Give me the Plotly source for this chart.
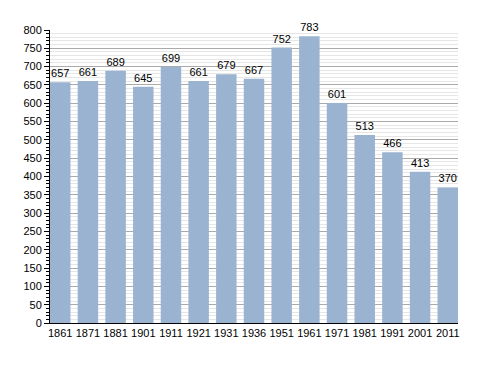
import plotly.graph_objects as go

years = ["1861", "1871", "1881", "1901", "1911", "1921", "1931", "1936",
         "1951", "1961", "1971", "1981", "1991", "2001", "2011"]
population = [657, 661, 689, 645, 699, 661, 679, 667, 752, 783, 601, 513, 466, 413, 370]
y_ticks = list(range(0, 801, 50))

fig = go.Figure(go.Bar(
    x=years, y=population,
    marker=dict(color="#9AB3D0", line=dict(width=0)),
    text=[str(v) for v in population],
    textposition="outside",
    textfont=dict(family="Liberation Sans, Arial", size=11, color="#000"),
    cliponaxis=False,
))

fig.update_layout(
    width=480, height=365,
    margin=dict(l=42, r=30, t=22, b=50),
    paper_bgcolor="white", plot_bgcolor="white",
    bargap=0.26,
    showlegend=False,
    font=dict(family="Liberation Sans, Arial", size=11, color="#000"),
)
fig.update_xaxes(
    type="category", range=[-0.37, 14.37],
    showline=True, linecolor="#000", linewidth=1,
    ticks="", showgrid=False, tickfont=dict(size=11),
)
fig.update_yaxes(
    range=[0, 800], tickvals=y_ticks,
    showline=True, linecolor="#000", linewidth=1,
    ticks="outside", ticklen=5, tickcolor="#000",
    showgrid=True, gridcolor="#AAAAAA", gridwidth=1,
    minor=dict(dtick=10, showgrid=True, gridcolor="#E6E6E6",
               ticks="outside", ticklen=3, tickcolor="#000"),
    zeroline=False, tickfont=dict(size=11),
)

fig.write_html("out.html")
